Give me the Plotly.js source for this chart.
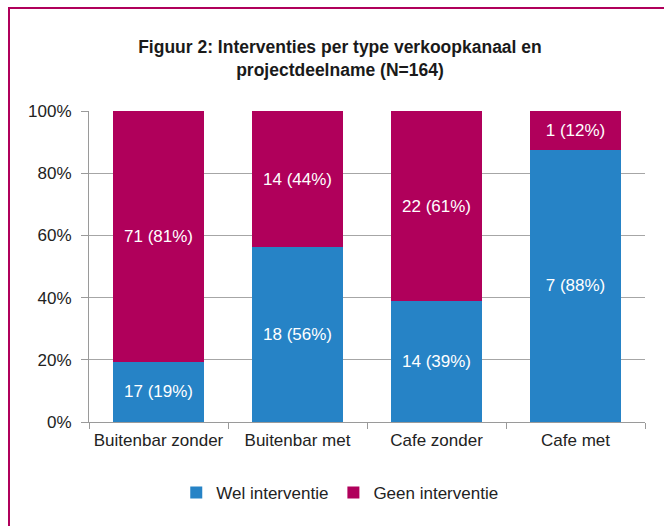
<!DOCTYPE html>
<html>
<head>
<meta charset="utf-8">
<script src="https://cdn.plot.ly/plotly-3.0.1.min.js"></script>
<style>
  html, body { margin: 0; padding: 0; background: #fff; }
  #chart { width: 664px; height: 526px; position: relative; }
  #frame { position: absolute; left: 8px; top: 7px; width: 660px; height: 530px;
           border-top: 2px solid #b0005b; border-left: 2px solid #b0005b; pointer-events: none; }
</style>
</head>
<body>
<div id="chart"></div>
<div id="frame"></div>
<script>
const categories = ["Buitenbar zonder", "Buitenbar met", "Cafe zonder", "Cafe met"];
const welCounts = [17, 18, 14, 7];
const geenCounts = [71, 14, 22, 1];
const welPct = [19, 56, 39, 88];
const geenPct = [81, 44, 61, 12];
const yTickVals = [0, 20, 40, 60, 80, 100];
const yTickText = ["0%", "20%", "40%", "60%", "80%", "100%"];

const blue = "#2683c6";
const magenta = "#b0005b";
const font = "Liberation Sans, Arial, sans-serif";

const traces = [
  {
    type: "bar", name: "Wel interventie", x: categories, y: welCounts,
    marker: { color: blue },
    text: welCounts.map((c, i) => c + " (" + welPct[i] + "%)"),
    textposition: "inside", insidetextanchor: "middle",
    textfont: { color: "#ffffff", size: 17, family: font },
    hoverinfo: "skip"
  },
  {
    type: "bar", name: "Geen interventie", x: categories, y: geenCounts,
    marker: { color: magenta },
    text: geenCounts.map((c, i) => c + " (" + geenPct[i] + "%)"),
    textposition: "inside", insidetextanchor: "middle",
    textfont: { color: "#ffffff", size: 17, family: font },
    hoverinfo: "skip"
  }
];

const layout = {
  width: 664, height: 526,
  margin: { l: 89, r: 19, t: 111, b: 104 },
  barmode: "stack", barnorm: "percent", bargap: 0.345,
  paper_bgcolor: "#ffffff", plot_bgcolor: "#ffffff",
  font: { family: font, color: "#222222", size: 17 },
  title: {
    text: "<b>Figuur 2: Interventies per type verkoopkanaal en<br>projectdeelname (N=164)</b>",
    font: { family: font, size: 17.5, color: "#1a1a1a" },
    x: 0.512, xref: "container", xanchor: "center",
    y: 1 - 53 / 526, yref: "container", yanchor: "middle"
  },
  xaxis: {
    type: "category", tickson: "boundaries", ticks: "outside", ticklen: 6,
    tickcolor: "#9a9a9a", showline: true, linecolor: "#9a9a9a", linewidth: 1,
    ticklabelstandoff: 3,
    showgrid: false, tickfont: { size: 17, color: "#222222" }, fixedrange: true
  },
  yaxis: {
    range: [0, 100], tickvals: yTickVals, ticktext: yTickText,
    ticks: "outside", ticklen: 7, tickcolor: "#9a9a9a", ticklabelstandoff: 6,
    showline: true, linecolor: "#9a9a9a", linewidth: 1,
    showgrid: true, gridcolor: "#a6a6a6", gridwidth: 1, zeroline: false,
    tickfont: { size: 17, color: "#222222" }, fixedrange: true
  },
  legend: {
    orientation: "h", x: 0.451, xanchor: "center", y: -0.228, yanchor: "middle",
    font: { size: 17, color: "#222222" }, traceorder: "normal", itemwidth: 30
  },
  showlegend: true
};

Plotly.newPlot("chart", traces, layout, { displayModeBar: false, staticPlot: true });
</script>
</body>
</html>
